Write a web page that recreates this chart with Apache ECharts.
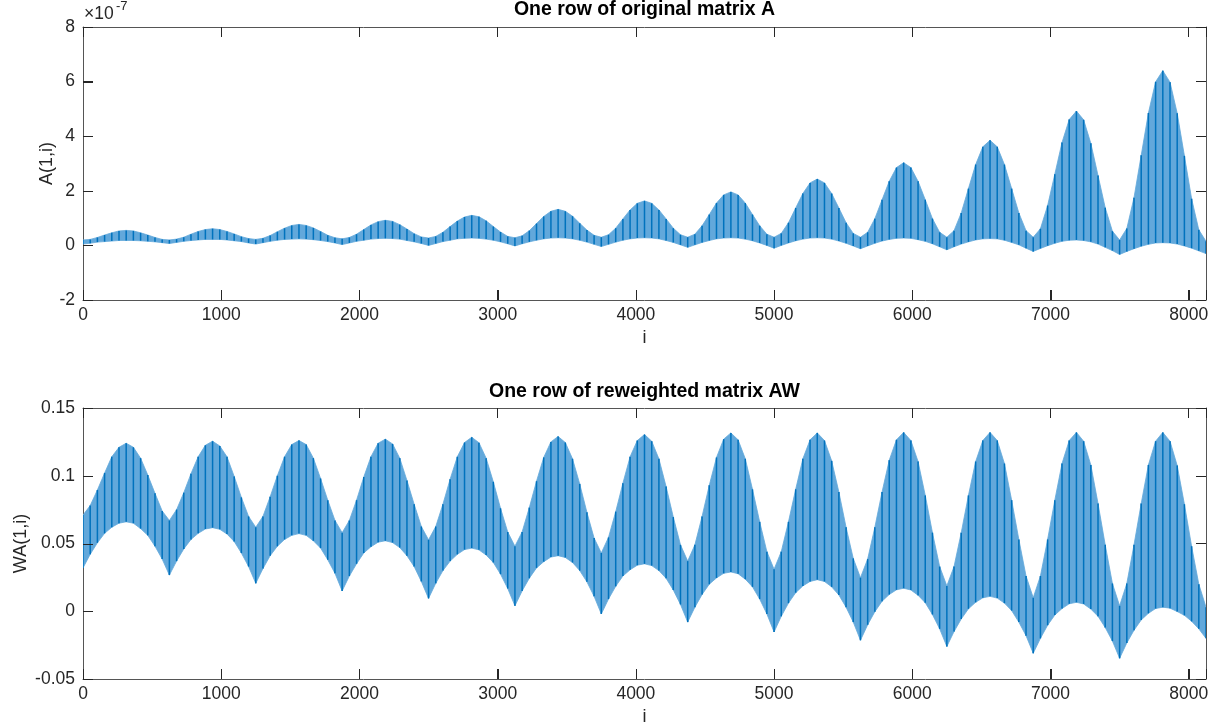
<!DOCTYPE html>
<html>
<head>
<meta charset="utf-8">
<script src="https://cdn.jsdelivr.net/npm/echarts@6/dist/echarts.min.js"></script>
<style>
html,body{margin:0;padding:0;background:#fff;}
#chart{width:1228px;height:727px;}
</style>
</head>
<body>
<div id="chart"></div>
<script>
// ---- data ----
// samples every 625/12 index units (12 samples per hump), i = 0 .. 156
var X_STEP = 625 / 12;
var X_MAX = 8125;
var xTicks = [0, 1000, 2000, 3000, 4000, 5000, 6000, 7000, 8000];
var topTicks = [-2, 0, 2, 4, 6, 8];
var botTicks = [-0.05, 0, 0.05, 0.1, 0.15];

// top plot, A(1,i) in units of 1e-7: upper and lower edge of the oscillating trace
var topHi = [
  .2,.22,.29,.38,.46,.53,.55,.53,.46,.38,.29,.22,
  .2,.23,.3,.41,.51,.58,.61,.58,.51,.42,.32,.25,
  .22,.26,.36,.5,.63,.73,.77,.73,.64,.51,.37,.28,
  .24,.29,.41,.58,.75,.87,.92,.88,.76,.6,.43,.31,
  .27,.33,.48,.69,.89,1.04,1.1,1.05,.9,.69,.49,.33,
  .28,.35,.54,.8,1.06,1.25,1.32,1.25,1.07,.81,.56,.37,
  .3,.39,.63,.97,1.3,1.54,1.63,1.54,1.3,.97,.63,.39,
  .3,.41,.72,1.13,1.55,1.85,1.96,1.85,1.55,1.13,.72,.41,
  .3,.44,.83,1.37,1.9,2.29,2.43,2.29,1.9,1.37,.83,.44,
  .3,.48,.98,1.67,2.35,2.85,3.03,2.85,2.35,1.67,.98,.48,
  .3,.54,1.19,2.08,2.96,3.61,3.85,3.61,2.96,2.08,1.19,.54,
  .3,.61,1.46,2.61,3.77,4.61,4.92,4.6,3.74,2.56,1.38,.52,
  .2,.62,1.75,3.3,4.85,5.99,6.4,5.98,4.84,3.28,1.71,.57,
  .15
];
var topLo = [
  .05,.08,.12,.14,.16,.18,.18,.18,.17,.15,.13,.1,
  .07,.11,.15,.18,.2,.22,.22,.22,.2,.17,.14,.09,
  .05,.1,.15,.19,.22,.23,.24,.23,.21,.18,.14,.09,
  .03,.09,.15,.19,.23,.25,.26,.25,.23,.18,.13,.07,
  0,.07,.14,.19,.24,.26,.27,.26,.23,.19,.13,.06,
  -.02,.06,.13,.19,.24,.27,.28,.27,.24,.19,.12,.04,
  -.04,.04,.12,.19,.24,.27,.28,.27,.24,.18,.11,.02,
  -.07,.02,.11,.18,.24,.27,.28,.27,.23,.17,.09,0,
  -.1,0,.09,.17,.23,.27,.28,.27,.23,.16,.08,-.02,
  -.12,-.02,.08,.16,.22,.26,.27,.26,.21,.15,.06,-.05,
  -.16,-.05,.05,.13,.2,.24,.25,.24,.19,.11,.02,-.1,
  -.22,-.11,-.01,.08,.15,.19,.2,.18,.13,.05,-.07,-.19,
  -.33,-.22,-.12,-.03,.04,.09,.1,.09,.05,-.02,-.1,-.2,
  -.3
];
// bottom plot, WA(1,i)
var botHi = [
  .071,.078,.0895,.102,.114,.121,.124,.121,.113,.1005,.087,.074,
  .067,.075,.0875,.1015,.114,.1225,.1255,.122,.114,.0995,.084,.070,
  .062,.070,.0845,.100,.114,.123,.126,.123,.113,.098,.082,.067,
  .058,.067,.082,.099,.114,.124,.127,.1235,.113,.0965,.079,.0625,
  .0527,.0625,.079,.0975,.114,.1245,.1284,.1244,.113,.0955,.076,.0585,
  .048,.0585,.0765,.096,.1135,.125,.129,.1245,.1125,.094,.073,.054,
  .043,.0545,.0735,.0945,.114,.126,.1304,.1255,.1125,.092,.0695,.049,
  .037,.049,.070,.093,.1135,.127,.1316,.1265,.1125,.090,.066,.044,
  .031,.044,.066,.090,.1125,.1265,.1316,.126,.111,.088,.062,.039,
  .0248,.0385,.062,.088,.1115,.1265,.132,.126,.1105,.0855,.058,.033,
  .0187,.033,.058,.0855,.1105,.126,.132,.126,.109,.082,.053,.026,
  .010,.026,.053,.082,.109,.126,.132,.1255,.108,.0795,.049,.0205,
  .004,.0205,.049,.0795,.108,.1255,.132,.1255,.1075,.079,.048,.020,
  .003
];
var botLo = [
  .032,.042,.0505,.0575,.062,.065,.066,.065,.061,.056,.048,.0385,
  .0267,.037,.046,.053,.0575,.0607,.0617,.0605,.057,.0515,.043,.033,
  .0206,.0315,.041,.048,.053,.056,.0573,.056,.052,.0467,.038,.028,
  .015,.026,.035,.043,.0476,.051,.052,.0507,.047,.041,.033,.022,
  .0095,.0206,.030,.037,.042,.0455,.0466,.0453,.0415,.036,.0274,.0168,
  .004,.015,.0244,.032,.0366,.040,.041,.0397,.036,.030,.0217,.011,
  -.002,.009,.0184,.026,.0306,.034,.035,.0337,.030,.0243,.0157,.005,
  -.008,.003,.0124,.020,.0246,.028,.029,.0277,.0237,.018,.009,-.002,
  -.0153,-.0037,.006,.0137,.0187,.022,.0233,.022,.018,.012,.003,-.008,
  -.0214,-.010,-.0003,.0074,.0124,.0158,.017,.0157,.0118,.0063,-.0024,-.013,
  -.026,-.015,-.0057,.0018,.0066,.0099,.011,.0097,.006,.0005,-.008,-.018,
  -.031,-.020,-.0103,-.0028,.002,.0055,.0066,.0054,.0016,-.0037,-.012,-.022,
  -.0347,-.0234,-.014,-.0064,-.0015,.002,.003,.0023,-.0002,-.003,-.0074,-.013,
  -.02
];

// ---- styles ----
var FONT = "'Liberation Sans', Arial, Helvetica, sans-serif";
var DARK = '#0072bd';
var FILL = '#62a8db';
var AXIS = '#555555';
var TICK = '#262626';
var TXT = '#262626';
var TICK_LEN = 10;

var xs = topHi.map(function (_, i) { return i * X_STEP; });

function makeData(lo, hi) {
  return xs.map(function (x, i) { return [x, lo[i], hi[i]]; });
}

function makeRender(lo, hi) {
  return function (params, api) {
    var i = params.dataIndex;
    var a = api.coord([xs[i], lo[i]]);
    var b = api.coord([xs[i], hi[i]]);
    var children = [];
    if (i < xs.length - 1) {
      var c = api.coord([xs[i + 1], hi[i + 1]]);
      var d = api.coord([xs[i + 1], lo[i + 1]]);
      children.push({
        type: 'polygon',
        shape: { points: [a, b, c, d] },
        style: { fill: FILL, stroke: FILL, lineWidth: 0.8 }
      });
    }
    children.push({
      type: 'line',
      shape: { x1: a[0], y1: a[1], x2: b[0], y2: b[1] },
      style: { stroke: DARK, lineWidth: 1.5 }
    });
    return { type: 'group', children: children };
  };
}

// inward tick marks on the bottom and left edges, placed through the axis scales
function bottomTickSeries(xIdx, yIdx, yMin) {
  return {
    type: 'custom', xAxisIndex: xIdx, yAxisIndex: yIdx, clip: false, silent: true, z: 6,
    encode: { x: 0, y: 1 },
    data: xTicks.map(function (v) { return [v, yMin]; }),
    renderItem: function (params, api) {
      var p = api.coord([api.value(0), api.value(1)]);
      var x = Math.round(p[0]) + 0.5;
      return { type: 'line', shape: { x1: x, y1: p[1], x2: x, y2: p[1] - TICK_LEN }, style: { stroke: TICK, lineWidth: 1 } };
    }
  };
}
function leftTickSeries(xIdx, yIdx, ticks) {
  return {
    type: 'custom', xAxisIndex: xIdx, yAxisIndex: yIdx, clip: false, silent: true, z: 6,
    encode: { x: 0, y: 1 },
    data: ticks.map(function (v) { return [0, v]; }),
    renderItem: function (params, api) {
      var p = api.coord([api.value(0), api.value(1)]);
      var y = Math.round(p[1]) + 0.5;
      return { type: 'line', shape: { x1: p[0], y1: y, x2: p[0] + TICK_LEN, y2: y }, style: { stroke: TICK, lineWidth: 1 } };
    }
  };
}

function lineOpt() { return { show: true, onZero: false, lineStyle: { color: AXIS, width: 1 } }; }
function tickOpt() { return { show: true, inside: true, length: TICK_LEN, lineStyle: { color: TICK, width: 1 } }; }

function xAxisPair(gi) {
  var bottom = {
    type: 'value', gridIndex: gi, min: 0, max: X_MAX, interval: 1000,
    position: 'bottom',
    splitLine: { show: false },
    axisLine: lineOpt(),
    axisTick: tickOpt(),
    name: 'i', nameLocation: 'middle', nameGap: 29, nameMoveOverlap: false,
    nameTextStyle: { fontFamily: FONT, fontSize: 18, color: TXT },
    axisLabel: {
      show: true, margin: 6, fontFamily: FONT, fontSize: 17.5, color: TXT,
      formatter: function (v) { return xTicks.indexOf(v) >= 0 ? String(v) : ''; }
    }
  };
  var top = {
    type: 'value', gridIndex: gi, min: 0, max: X_MAX, interval: 1000,
    position: 'top',
    splitLine: { show: false },
    axisLine: lineOpt(),
    axisTick: tickOpt(),
    axisLabel: { show: false }
  };
  return [bottom, top];
}

function yAxisPair(gi, min, max, interval, ticks, name, gap) {
  var left = {
    type: 'value', gridIndex: gi, min: min, max: max, interval: interval,
    position: 'left',
    splitLine: { show: false },
    axisLine: lineOpt(),
    axisTick: tickOpt(),
    name: name, nameLocation: 'middle', nameGap: gap, nameMoveOverlap: false,
    nameTextStyle: { fontFamily: FONT, fontSize: 18, color: TXT },
    axisLabel: {
      show: true, margin: 8, fontFamily: FONT, fontSize: 17.5, color: TXT,
      formatter: function (v) {
        var r = Math.round(v * 1e6) / 1e6;
        return ticks.indexOf(r) >= 0 ? String(r) : '';
      }
    }
  };
  var right = {
    type: 'value', gridIndex: gi, min: min, max: max, interval: interval,
    position: 'right',
    splitLine: { show: false },
    axisLine: lineOpt(),
    axisTick: tickOpt(),
    axisLabel: { show: false }
  };
  return [left, right];
}

var xa = xAxisPair(0).concat(xAxisPair(1));
var ya = yAxisPair(0, -2, 8, 2, topTicks, 'A(1,i)', 27)
  .concat(yAxisPair(1, -0.05, 0.15, 0.05, botTicks, 'WA(1,i)', 53));

var chart = echarts.init(document.getElementById('chart'), null, { renderer: 'canvas' });
chart.setOption({
  animation: false,
  backgroundColor: '#ffffff',
  grid: [
    { left: 83, top: 27, width: 1123, height: 273, containLabel: false },
    { left: 83, top: 408, width: 1123, height: 275, containLabel: false }
  ],
  xAxis: xa,
  yAxis: ya,
  graphic: [
    { type: 'text', x: 644.5, y: 10, style: { text: 'One row of original matrix A', font: 'bold 19.5px ' + FONT, fill: '#000', align: 'center', verticalAlign: 'middle' } },
    { type: 'text', x: 644.5, y: 392, style: { text: 'One row of reweighted matrix AW', font: 'bold 19.5px ' + FONT, fill: '#000', align: 'center', verticalAlign: 'middle' } },
    { type: 'text', x: 84, y: 5, style: { text: '\u00d710', font: '17.5px ' + FONT, fill: TXT, align: 'left', verticalAlign: 'top' } },
    { type: 'text', x: 116, y: 0, style: { text: '-7', font: '13px ' + FONT, fill: TXT, align: 'left', verticalAlign: 'top' } }
  ],
  series: [
    {
      type: 'custom', xAxisIndex: 0, yAxisIndex: 0, clip: true,
      renderItem: makeRender(topLo, topHi),
      encode: { x: 0, y: [1, 2] },
      data: makeData(topLo, topHi)
    },
    {
      type: 'custom', xAxisIndex: 2, yAxisIndex: 2, clip: true,
      renderItem: makeRender(botLo, botHi),
      encode: { x: 0, y: [1, 2] },
      data: makeData(botLo, botHi)
    },
    bottomTickSeries(0, 0, -2),
    leftTickSeries(0, 0, topTicks),
    bottomTickSeries(2, 2, -0.05),
    leftTickSeries(2, 2, botTicks)
  ]
});
</script>
</body>
</html>
